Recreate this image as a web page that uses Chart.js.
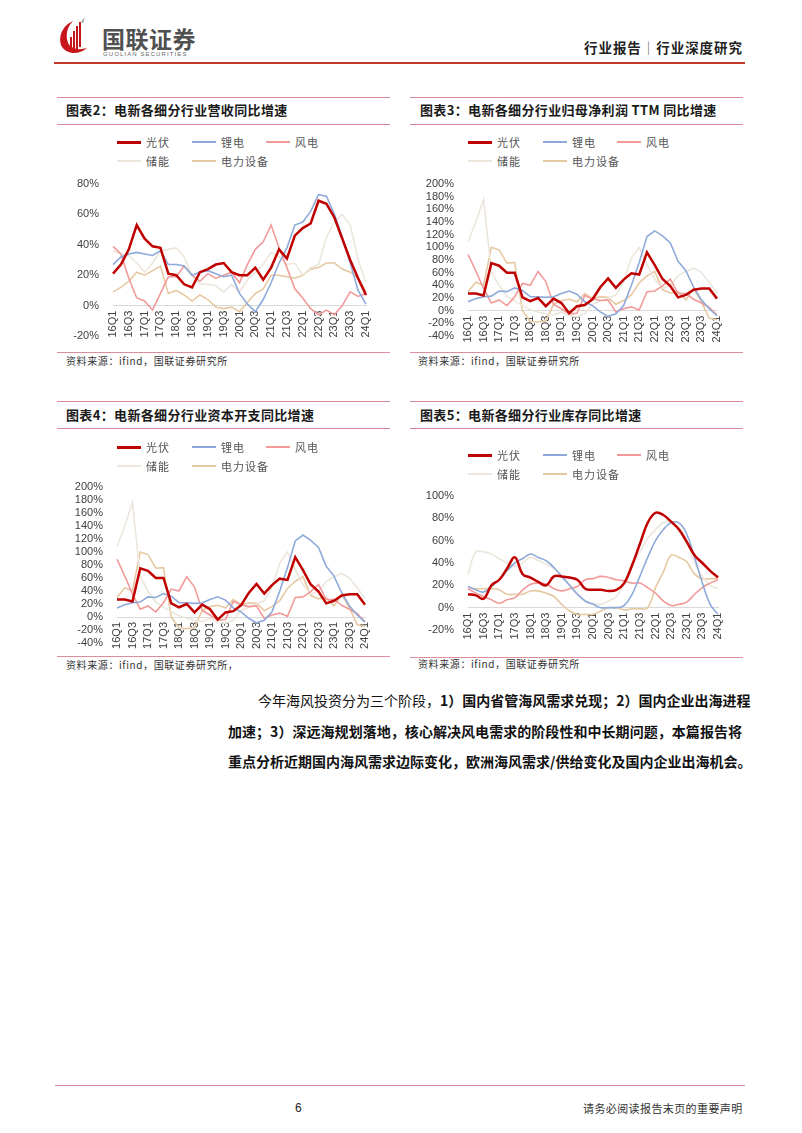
<!DOCTYPE html>
<html>
<head>
<meta charset="utf-8">
<script src="https://cdn.jsdelivr.net/npm/chart.js@4"></script>
<style>
  body { margin: 0; background: #fff; }
  #page { position: relative; width: 802px; height: 1133px; overflow: hidden; font-family: 'Noto Sans CJK SC', sans-serif; color: #222; }
  .abs { position: absolute; white-space: nowrap; }
  .rule { position: absolute; height: 0; }
  .title { position: absolute; font-size: 13px; font-weight: 700; line-height: 16px; letter-spacing: 0.35px; color: #1a1a1a; white-space: nowrap; }
  .src { position: absolute; font-size: 10px; line-height: 12px; letter-spacing: 0.6px; color: #333; white-space: nowrap; }
  .lg { position: absolute; font-size: 11px; line-height: 12px; letter-spacing: 1px; color: #555; white-space: nowrap; }
  .lgline { position: absolute; }
  .body { position: absolute; font-size: 14px; line-height: 20px; color: #111; text-align: justify; text-align-last: justify; white-space: nowrap; }
  .b { font-weight: 700; }
  canvas { position: absolute; }
</style>
</head>
<body>
<div id="page">
  <!-- header -->
  <svg class="abs" style="left:58px;top:17px" width="32" height="38" viewBox="0 0 32 38">
    <path d="M15 4 C5 8 0 19 3 28 C7 37 20 39 29 31 C19 34 10 31 9 22 C8 15 10 9 15 4Z" fill="#c8161d"/>
    <rect x="12" y="20" width="2" height="12" fill="#c8161d"/>
    <rect x="15" y="14" width="2" height="19" fill="#c8161d"/>
    <rect x="18" y="9" width="2" height="23" fill="#c8161d"/>
    <rect x="21" y="5" width="2" height="25" fill="#c8161d"/>
    <path d="M23 5 L27 0 L25 6 Z" fill="#999"/>
  </svg>
  <div class="abs" style="left:102px;top:24px;font-size:23px;line-height:28px;font-weight:700;color:#505050;letter-spacing:0.5px">国联证券</div>
  <div class="abs" style="left:103px;top:51px;font-size:6px;line-height:7px;color:#666;letter-spacing:1.1px;font-family:'Liberation Sans',sans-serif">GUOLIAN SECURITIES</div>
  <div class="abs" style="left:584px;top:38px;width:158px;font-size:13.5px;line-height:18px;font-weight:700;color:#222;text-align:justify;text-align-last:justify">行业报告<span style="font-weight:300;color:#444">｜</span>行业深度研究</div>
  <div class="rule" style="left:54px;top:62px;width:691px;border-top:2px solid #c0392b"></div>

  <!-- panel titles and rules -->
  <div class="rule" style="left:57px;top:97px;width:333px;border-top:1px solid #d98a96"></div>
  <div class="title" style="left:66px;top:102px">图表2：电新各细分行业营收同比增速</div>
  <div class="rule" style="left:57px;top:124px;width:333px;border-top:1.5px solid #d98a96"></div>
  <div class="rule" style="left:57px;top:352px;width:333px;border-top:1.5px solid #dc8f9b"></div>
  <div class="src" style="left:66px;top:355px">资料来源：ifind，国联证券研究所</div>

  <div class="rule" style="left:410px;top:97px;width:333px;border-top:1px solid #d98a96"></div>
  <div class="title" style="left:420px;top:102px">图表3：电新各细分行业归母净利润 TTM 同比增速</div>
  <div class="rule" style="left:410px;top:124px;width:333px;border-top:1.5px solid #d98a96"></div>
  <div class="rule" style="left:410px;top:352px;width:333px;border-top:1.5px solid #dc8f9b"></div>
  <div class="src" style="left:418px;top:355px">资料来源：ifind，国联证券研究所</div>

  <div class="rule" style="left:57px;top:401px;width:333px;border-top:1px solid #d98a96"></div>
  <div class="title" style="left:66px;top:407px">图表4：电新各细分行业资本开支同比增速</div>
  <div class="rule" style="left:57px;top:428px;width:333px;border-top:1.5px solid #d98a96"></div>
  <div class="rule" style="left:57px;top:656px;width:333px;border-top:1.5px solid #dc8f9b"></div>
  <div class="src" style="left:66px;top:659px">资料来源：ifind，国联证券研究所，</div>

  <div class="rule" style="left:410px;top:401px;width:333px;border-top:1px solid #d98a96"></div>
  <div class="title" style="left:420px;top:407px">图表5：电新各细分行业库存同比增速</div>
  <div class="rule" style="left:410px;top:428px;width:333px;border-top:1.5px solid #d98a96"></div>
  <div class="rule" style="left:410px;top:657px;width:333px;border-top:1.5px solid #dc8f9b"></div>
  <div class="src" style="left:418px;top:658px">资料来源：ifind，国联证券研究所</div>

  <canvas id="c2" width="313" height="182" style="left:63px;top:174px"></canvas>
  <canvas id="c3" width="309" height="182" style="left:418px;top:174px"></canvas>
  <canvas id="c4" width="308" height="186" style="left:67px;top:477px"></canvas>
  <canvas id="c5" width="310" height="164" style="left:418px;top:486px"></canvas>

  <!-- body text -->
  <div class="body" style="left:258px;top:690px;width:484px">今年海风投资分为三个阶段，<span class="b">1）国内省管海风需求兑现；2）国内企业出海进程</span></div>
  <div class="body b" style="left:228px;top:721px;width:514px">加速；3）深远海规划落地，核心解决风电需求的阶段性和中长期问题，本篇报告将</div>
  <div class="body b" style="left:228px;top:751px;width:514px">重点分析近期国内海风需求边际变化，欧洲海风需求/供给变化及国内企业出海机会。</div>

  <!-- footer -->
  <div class="rule" style="left:55px;top:1085px;width:690px;border-top:1.5px solid #d98a96"></div>
  <div class="abs" style="left:295px;top:1100px;font-size:12px;line-height:16px;font-family:'Liberation Sans',sans-serif;color:#222">6</div>
  <div class="abs" style="left:583px;top:1101px;font-size:11px;line-height:14px;letter-spacing:0.4px;color:#333">请务必阅读报告末页的重要声明</div>
</div>

<script>
const quarters = ['16Q1','16Q2','16Q3','16Q4','17Q1','17Q2','17Q3','17Q4','18Q1','18Q2','18Q3','18Q4',
  '19Q1','19Q2','19Q3','19Q4','20Q1','20Q2','20Q3','20Q4','21Q1','21Q2','21Q3','21Q4',
  '22Q1','22Q2','22Q3','22Q4','23Q1','23Q2','23Q3','23Q4','24Q1'];

const seriesNames = ['光伏', '锂电', '风电', '储能', '电力设备'];
const seriesColors = ['#c00000', '#8eaadb', '#f29a9a', '#ece6dc', '#e6c9a2'];
const seriesWidths = [2.5, 1.6, 1.6, 1.6, 1.6];

// 图表2 营收同比 (%)
const pvRev   = [21,27,37,53,44,39,38,21,20,14,12,22,24,27,28,22,20,20,25,17,25,37,31,46,51,54,69,67,58,44,30,18,7];
const liRev   = [27,32,34,35,34,33,36,27,27,26,20,22,23,21,19,20,8,1,-4,4,15,28,38,53,55,62,73,72,60,45,28,10,1];
const windRev = [39,34,18,5,3,-3,8,19,19,26,20,16,21,18,20,22,15,27,37,42,53,38,25,11,5,-2,-6,-3,-6,0,9,6,8];
const essRev  = [36,34,33,28,22,28,36,37,38,32,20,14,14,13,9,14,9,17,22,27,35,32,27,28,20,25,27,45,55,60,53,30,15];
const peRev   = [9,12,16,22,20,23,26,8,10,7,3,7,4,-1,-2,-1,-4,2,8,11,20,20,19,18,20,24,25,28,28,24,22,18,9];

// 图表3 归母净利润TTM同比 (%)
const pvProfit   = [27,27,24,75,71,60,60,21,15,20,7,19,12,-4,7,9,18,37,51,36,49,59,57,92,72,50,39,21,25,33,35,35,19];
const liProfit   = [14,19,22,23,31,30,36,32,22,22,21,22,27,31,26,14,8,-2,-9,-5,8,40,76,117,126,118,107,78,63,37,17,3,-8];
const windProfit = [89,63,35,12,17,8,22,43,40,62,46,10,3,-5,-4,24,19,16,17,-2,3,6,1,30,31,39,50,27,27,18,12,5,-7];
const essProfit  = [108,140,176,62,40,23,15,8,2,-2,-5,-7,-2,-8,-10,-5,10,15,20,25,45,83,100,73,50,35,40,55,62,67,60,45,28];
const peProfit   = [30,45,40,100,96,75,76,0,-17,-18,-16,10,16,18,14,27,19,22,21,10,16,25,44,55,62,33,28,30,17,35,14,-12,-14];

// 图表4 资本开支同比 (%) — the picture shows the same curves as 图表3
const pvCapex   = [27,27,24,75,71,60,60,21,15,20,7,19,12,-4,7,9,18,37,51,36,49,59,57,92,72,50,39,21,25,33,35,35,19];
const liCapex   = [14,19,22,23,31,30,36,32,22,22,21,22,27,31,26,14,8,-2,-9,-5,8,40,76,117,126,118,107,78,63,37,17,3,-8];
const windCapex = [89,63,35,12,17,8,22,43,40,62,46,10,3,-5,-4,24,19,16,17,-2,3,6,1,30,31,39,50,27,27,18,12,5,-7];
const essCapex  = [108,140,176,62,40,23,15,8,2,-2,-5,-7,-2,-8,-10,-5,10,15,20,25,45,83,100,73,50,35,40,55,62,67,60,45,28];
const peCapex   = [30,45,40,100,96,75,76,0,-17,-18,-16,10,16,18,14,27,19,22,21,10,16,25,44,55,62,33,28,30,17,35,14,-12,-14];

// 图表5 库存同比 (%)
const pvInv   = [12,11,8,20,25,35,45,30,27,23,20,28,28,27,25,17,16,16,15,16,22,38,57,76,85,83,77,70,59,47,40,33,27];
const liInv   = [19,16,14,19,25,33,40,44,48,45,42,36,28,20,12,6,3,0,0,0,2,12,28,45,60,70,76,76,66,45,22,3,-6];
const windInv = [17,13,10,7,4,7,9,16,21,22,21,17,15,17,19,25,26,28,27,25,24,22,22,18,13,6,2,3,5,12,18,22,25];
const essInv  = [30,50,50,48,44,40,37,40,45,42,39,35,28,21,13,6,4,3,6,10,22,37,50,62,70,76,77,72,61,40,28,20,17];
const peInv   = [18,17,17,17,16,12,12,12,15,15,13,10,3,-3,-6,-6,-6,-3,0,0,-2,-1,-1,0,18,32,47,45,41,30,26,26,26];

const tickFont = { family: "'Liberation Sans', Arial, sans-serif", size: 11 };

function makeChart(id, values, yMin, yMax, tension) {
  return new Chart(document.getElementById(id), {
    type: 'line',
    data: {
      labels: quarters,
      datasets: values.map((v, i) => ({
        label: seriesNames[i],
        data: v,
        borderColor: seriesColors[i],
        backgroundColor: seriesColors[i],
        borderWidth: seriesWidths[i],
        pointRadius: 0,
        tension: tension,
        fill: false
      }))
    },
    options: {
      responsive: false,
      animation: false,
      layout: { padding: { top: 10, right: 10, bottom: 20, left: 0 } },
      plugins: { legend: { display: false }, tooltip: { enabled: false } },
      scales: {
        x: {
          position: { y: 0 },
          grid: { display: false, drawTicks: false },
          border: { display: true, color: '#d9d9d9', width: 1 },
          ticks: {
            autoSkip: false, minRotation: 90, maxRotation: 90, padding: 5,
            font: tickFont, color: '#404040',
            callback: (v, i) => (i % 2 === 0 ? quarters[i] : null)
          },
          afterFit: s => { s.paddingLeft = 0; s.paddingRight = 0; }
        },
        y: {
          min: yMin, max: yMax,
          grid: { display: false, drawTicks: false },
          border: { display: false },
          ticks: { stepSize: 20, autoSkip: false, padding: 14, font: tickFont, color: '#404040', callback: v => v + '%' },
          afterFit: s => { s.width = 50; s.paddingTop = 0; s.paddingBottom = 0; }
        }
      }
    }
  });
}

function makeLegend(x, y) {
  const page = document.getElementById('page');
  const cols = [0, 75, 149];
  seriesNames.forEach((name, i) => {
    const cx = x + cols[i % 3];
    const cy = y + Math.floor(i / 3) * 19;
    const ln = document.createElement('div');
    ln.className = 'lgline';
    const w = seriesWidths[i] > 2 ? 3 : 2;
    ln.style.cssText = `left:${cx}px;top:${cy - w / 2}px;width:24px;height:${w}px;background:${seriesColors[i]}`;
    page.appendChild(ln);
    const tx = document.createElement('div');
    tx.className = 'lg';
    tx.style.left = (cx + 29) + 'px';
    tx.style.top = (cy - 6) + 'px';
    tx.textContent = name;
    page.appendChild(tx);
  });
}

makeChart('c2', [pvRev, liRev, windRev, essRev, peRev], -20, 80, 0);
makeChart('c3', [pvProfit, liProfit, windProfit, essProfit, peProfit], -40, 200, 0);
makeChart('c4', [pvCapex, liCapex, windCapex, essCapex, peCapex], -40, 200, 0);
makeChart('c5', [pvInv, liInv, windInv, essInv, peInv], -20, 100, 0.4);

makeLegend(117, 142);
makeLegend(468, 142);
makeLegend(117, 447);
makeLegend(468, 455);
</script>
</body>
</html>
